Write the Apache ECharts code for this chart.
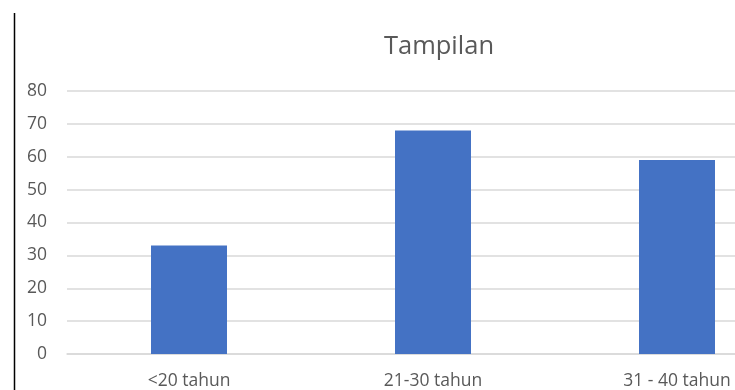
<!DOCTYPE html>
<html>
<head>
<meta charset="utf-8">
<script src="https://cdn.jsdelivr.net/npm/echarts@6/dist/echarts.min.js"></script>
<style>html,body{margin:0;padding:0;background:#fff;overflow:hidden;width:735px;height:390px;}#c{width:799px;height:390px;}</style>
</head>
<body>
<div id="c"></div>
<script>
const categories = ['<20 tahun', '21-30 tahun', '31 - 40 tahun'];
const values = [33, 68, 59];
const yTicks = [0, 10, 20, 30, 40, 50, 60, 70, 80];
const titleText = 'Tampilan';

const chart = echarts.init(document.getElementById('c'));
chart.setOption({
  animation: false,
  title: {
    text: titleText,
    left: 434, top: 29, textAlign: 'center',
    textStyle: { fontFamily: 'Open Sans', fontSize: 25.5, fontWeight: 'normal', color: '#595959' }
  },
  grid: { left: 67, right: 0, top: 91, bottom: 36, containLabel: false },
  xAxis: {
    type: 'category', data: categories,
    axisLine: { lineStyle: { color: '#d9d9d9', width: 1.5 } },
    axisTick: { show: false },
    axisLabel: { color: '#595959', fontFamily: 'Open Sans', fontSize: 17.5, margin: 18 }
  },
  yAxis: {
    type: 'value', min: yTicks[0], max: yTicks[yTicks.length - 1], interval: 10,
    axisLine: { show: false }, axisTick: { show: false },
    axisLabel: { color: '#595959', fontFamily: 'Open Sans', fontSize: 17.5, margin: 20 },
    splitLine: { lineStyle: { color: '#d9d9d9', width: 1.5 } }
  },
  series: [{
    type: 'bar', data: values, barWidth: 76,
    itemStyle: { color: '#4472c4' }
  }],
  graphic: [{
    type: 'line', shape: { x1: 14.5, y1: 13, x2: 14.5, y2: 390 },
    style: { stroke: '#000', lineWidth: 1.5 }
  }]
});
</script>
</body>
</html>
